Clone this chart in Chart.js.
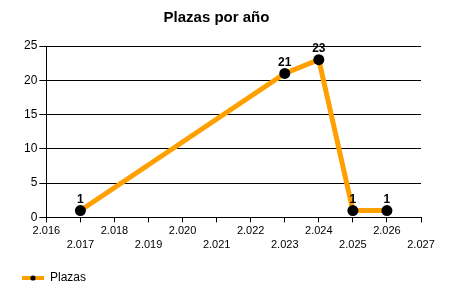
<!DOCTYPE html>
<html>
<head>
<meta charset="utf-8">
<script src="https://cdn.jsdelivr.net/npm/chart.js@4"></script>
<style>
html,body{margin:0;padding:0;background:#fff;}
#wrap{width:450px;height:300px;position:relative;}
</style>
</head>
<body>
<div id="wrap"><canvas id="c" width="450" height="300"></canvas></div>
<script>
const chartTitle = "Plazas por año";
const seriesName = "Plazas";
const years = [2017, 2023, 2024, 2025, 2026];
const plazas = [1, 21, 23, 1, 1];
const xMin = 2016, xMax = 2027;
const yMin = 0, yMax = 25, yStep = 5;

const ORANGE = '#FFA000';
const FONT = "'Liberation Sans', Arial, sans-serif";

function fmtYear(v){ const s = String(Math.round(v)); return s.slice(0,1) + '.' + s.slice(1); }

// legend symbol: orange line with small black dot
const legendIcon = document.createElement('canvas');
legendIcon.width = 22; legendIcon.height = 8;
(function(){
  const g = legendIcon.getContext('2d');
  g.fillStyle = ORANGE; g.fillRect(0, 2, 22, 4);
  g.fillStyle = '#000'; g.beginPath(); g.arc(11, 4, 2.6, 0, Math.PI*2); g.fill();
})();

const valueLabels = {
  id: 'valueLabels',
  afterDatasetsDraw(chart){
    const ctx = chart.ctx;
    chart.data.datasets.forEach((ds, di) => {
      const meta = chart.getDatasetMeta(di);
      meta.data.forEach((pt, i) => {
        ctx.save();
        ctx.font = "bold 12px " + FONT;
        ctx.fillStyle = '#000';
        ctx.textAlign = 'center';
        ctx.textBaseline = 'bottom';
        ctx.fillText(String(ds.data[i].y), pt.x, pt.y - 5);
        ctx.restore();
      });
    });
  }
};

new Chart(document.getElementById('c'), {
  type: 'line',
  data: {
    datasets: [{
      label: seriesName,
      data: years.map((x, i) => ({x: x, y: plazas[i]})),
      borderColor: ORANGE,
      backgroundColor: '#000',
      borderWidth: 5,
      pointRadius: 5.5,
      pointHoverRadius: 5.5,
      pointBackgroundColor: '#000',
      pointBorderColor: '#000',
      pointBorderWidth: 0,
      tension: 0,
      fill: false
    }]
  },
  options: {
    responsive: false,
    animation: false,
    devicePixelRatio: 1,
    layout: { padding: { left: 12, right: 29, top: 0, bottom: 6 } },
    plugins: {
      title: {
        display: true, text: chartTitle, color: '#000',
        font: { family: FONT, size: 15, weight: 'bold' },
        padding: { top: 9, bottom: 19 }
      },
      legend: {
        display: true, position: 'bottom', align: 'start',
        labels: {
          color: '#000',
          font: { family: FONT, size: 12 },
          usePointStyle: true,
          pointStyleWidth: 22,
          padding: 10,
          generateLabels(chart){
            return chart.data.datasets.map((ds, i) => ({
              text: ds.label, pointStyle: legendIcon, fillStyle: ORANGE,
              strokeStyle: ORANGE, lineWidth: 0, hidden: false, datasetIndex: i, fontColor: '#000'
            }));
          }
        }
      },
      tooltip: { enabled: false }
    },
    scales: {
      x: {
        type: 'linear', min: xMin, max: xMax,
        afterBuildTicks(scale){
          const t = [];
          for (let v = xMin; v <= xMax; v++) t.push({value: v});
          scale.ticks = t;
        },
        afterFit(scale){ scale.height += 9; },
        ticks: {
          autoSkip: false, maxRotation: 0, minRotation: 0,
          color: '#000', padding: 1,
          font: { family: FONT, size: 11, lineHeight: 1.3 },
          callback(v){ return ((v - xMin) % 2 === 0) ? [fmtYear(v)] : ['', fmtYear(v)]; }
        },
        grid: { drawOnChartArea: false, drawTicks: true, tickLength: 5, color: '#000', lineWidth: 1 },
        border: { display: true, color: '#000', width: 1 }
      },
      y: {
        min: yMin, max: yMax,
        afterFit(scale){ scale.width += 10; },
        ticks: {
          stepSize: yStep, color: '#000', padding: 2,
          font: { family: FONT, size: 12 }
        },
        grid: { drawOnChartArea: true, drawTicks: true, tickLength: 7, color: '#000', lineWidth: 1 },
        border: { display: true, color: '#000', width: 1 }
      }
    }
  },
  plugins: [valueLabels]
});
</script>
</body>
</html>
